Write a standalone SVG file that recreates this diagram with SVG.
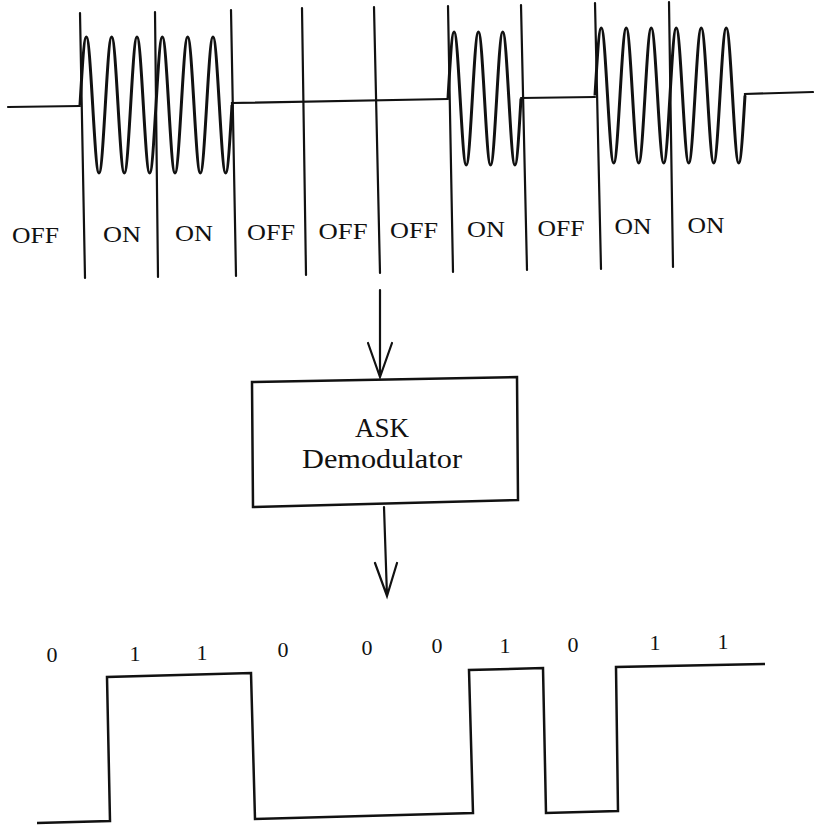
<svg xmlns="http://www.w3.org/2000/svg" width="814" height="828" viewBox="0 0 814 828">
<style>
.ln{fill:none;stroke:#111;stroke-width:2.2;stroke-linecap:round}
.wv{fill:none;stroke:#111;stroke-width:3;stroke-linejoin:round}
.sq{fill:none;stroke:#111;stroke-width:2.5;stroke-linejoin:miter}
.lb{font-family:"Liberation Serif","Times New Roman",serif;font-size:23px;fill:#111;text-anchor:middle}
.bt{font-family:"Liberation Serif","Times New Roman",serif;font-size:22px;fill:#111;text-anchor:middle}
.bx{font-family:"Liberation Serif","Times New Roman",serif;font-size:27px;fill:#111;text-anchor:middle}
</style>
<rect width="814" height="828" fill="#fff"/>
<g id="ask-signal">
<path class="ln" d="M8,107 L80,106 M232,105 L232,103 L448,99 M521,98 L595,97 M745,95.5 L745,94 L813,92"/>
<path class="wv" d="M80,105 c2.065,-34.84 4.041,-68 6.333,-68 s4.268,33.16 6.333,68 s4.041,68 6.333,68 s4.268,-33.16 6.333,-68
s4.041,-68 6.333,-68 s4.268,33.16 6.333,68 s4.041,68 6.333,68 s4.268,-33.16 6.333,-68
s4.041,-68 6.333,-68 s4.268,33.16 6.333,68 s4.041,68 6.333,68 s4.268,-33.16 6.333,-68
s4.041,-68 6.333,-68 s4.268,33.16 6.333,68 s4.041,68 6.333,68 s4.268,-33.16 6.333,-68
s4.041,-68 6.333,-68 s4.268,33.16 6.333,68 s4.041,68 6.333,68 s4.268,-33.16 6.333,-68
s4.041,-68 6.333,-68 s4.268,33.16 6.333,68 s4.041,68 6.333,68 s4.268,-33.16 6.333,-68"/>
<path class="wv" d="M448,98.5 c1.984,-34.07 3.882,-66.5 6.083,-66.5 s4.099,32.43 6.083,66.5 s3.882,66.5 6.083,66.5 s4.099,-32.43 6.083,-66.5
s3.882,-66.5 6.083,-66.5 s4.099,32.43 6.083,66.5 s3.882,66.5 6.083,66.5 s4.099,-32.43 6.083,-66.5
s3.882,-66.5 6.083,-66.5 s4.099,32.43 6.083,66.5 s3.882,66.5 6.083,66.5 s4.099,-32.43 6.083,-66.5"/>
<path class="wv" d="M595,95.5 c2.038,-34.58 3.988,-67.5 6.25,-67.5 s4.212,32.92 6.25,67.5 s3.988,67.5 6.25,67.5 s4.212,-32.92 6.25,-67.5
s3.988,-67.5 6.25,-67.5 s4.212,32.92 6.25,67.5 s3.988,67.5 6.25,67.5 s4.212,-32.92 6.25,-67.5
s3.988,-67.5 6.25,-67.5 s4.212,32.92 6.25,67.5 s3.988,67.5 6.25,67.5 s4.212,-32.92 6.25,-67.5
s3.988,-67.5 6.25,-67.5 s4.212,32.92 6.25,67.5 s3.988,67.5 6.25,67.5 s4.212,-32.92 6.25,-67.5
s3.988,-67.5 6.25,-67.5 s4.212,32.92 6.25,67.5 s3.988,67.5 6.25,67.5 s4.212,-32.92 6.25,-67.5
s3.988,-67.5 6.25,-67.5 s4.212,32.92 6.25,67.5 s3.988,67.5 6.25,67.5 s4.212,-32.92 6.25,-67.5"/>
<path class="ln" d="M80,13 L85,278 M155,12 L158,277 M231,10 L236,276 M302,8 L306,275 M374,7 L380,273 M448,6 L453,272 M521,5 L527,270 M595,3 L601,269 M669,2 L673,267"/>
<text class="lb" x="35.5" y="243" textLength="47" lengthAdjust="spacingAndGlyphs">OFF</text>
<text class="lb" x="122" y="242" textLength="38" lengthAdjust="spacingAndGlyphs">ON</text>
<text class="lb" x="194" y="241" textLength="38" lengthAdjust="spacingAndGlyphs">ON</text>
<text class="lb" x="271" y="240" textLength="48" lengthAdjust="spacingAndGlyphs">OFF</text>
<text class="lb" x="343" y="239" textLength="49" lengthAdjust="spacingAndGlyphs">OFF</text>
<text class="lb" x="414" y="238" textLength="48" lengthAdjust="spacingAndGlyphs">OFF</text>
<text class="lb" x="486" y="237" textLength="38" lengthAdjust="spacingAndGlyphs">ON</text>
<text class="lb" x="561" y="236" textLength="47" lengthAdjust="spacingAndGlyphs">OFF</text>
<text class="lb" x="633" y="234" textLength="37" lengthAdjust="spacingAndGlyphs">ON</text>
<text class="lb" x="706" y="233" textLength="37" lengthAdjust="spacingAndGlyphs">ON</text>
</g>
<g id="ask-demodulator">
<polygon points="252,382 517,377 518,500 253,507" fill="#fff" stroke="#111" stroke-width="2.5"/>
<text class="bx" x="382" y="437">ASK</text>
<text class="bx" x="382" y="468" textLength="160" lengthAdjust="spacingAndGlyphs">Demodulator</text>
</g>
<g id="connectors">
<path class="ln" d="M380,290 L380,377 M368,343 L380,377 L392,343"/>
<path class="ln" d="M384,507 L387,596 M375,563 L387,596 L397,563"/>
</g>
<g id="digital-signal">
<polyline class="sq" points="37,823 110,821 107,677 251,673 255,819 473,813 469,670 543,668 546,813 618,811 616,667 765,664"/>
<text class="bt" x="52" y="662">0</text>
<text class="bt" x="135" y="661">1</text>
<text class="bt" x="202" y="660">1</text>
<text class="bt" x="283" y="657">0</text>
<text class="bt" x="367" y="655">0</text>
<text class="bt" x="437" y="653">0</text>
<text class="bt" x="505" y="653">1</text>
<text class="bt" x="573" y="652">0</text>
<text class="bt" x="655" y="650">1</text>
<text class="bt" x="723" y="649">1</text>
</g>
</svg>
